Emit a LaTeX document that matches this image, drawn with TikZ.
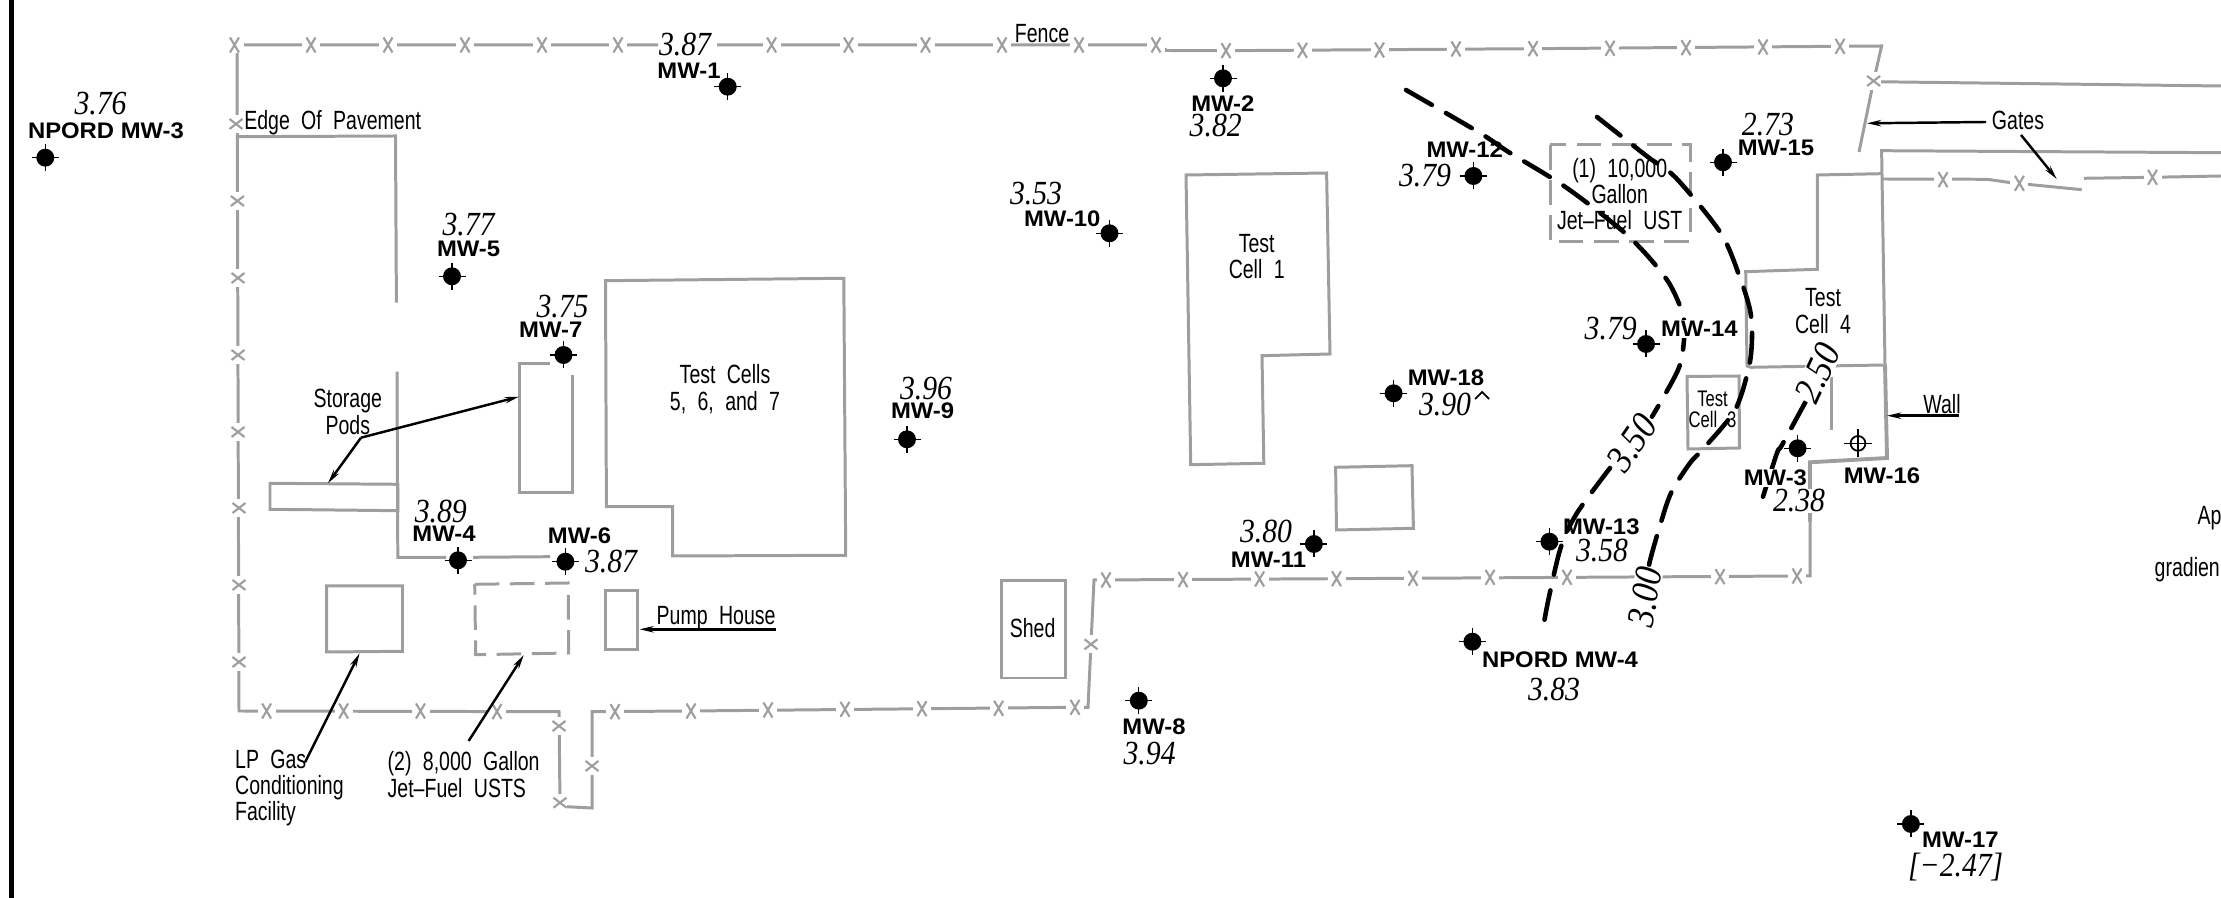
\documentclass[tikz,border=0pt]{standalone}
\usepackage{fontspec}
\usetikzlibrary{arrows.meta}
\newfontfamily\cadfont[FakeStretch=0.74,WordSpace=2.1]{Liberation Sans}
\newfontfamily\valfont[FakeStretch=0.88]{Liberation Serif}
\newfontfamily\wellfont[FakeStretch=1.06]{Liberation Sans}
\tikzset{
  site/.style={draw=black!38,line width=0.85pt,line join=miter},
  sitedash/.style={site,dash pattern=on 7pt off 3pt},
  contour/.style={line width=1.3pt,line cap=round,dash pattern=on 8.5pt off 4.6pt},
  leader/.style={line width=0.7pt,-{Stealth[length=4pt,width=1.8pt]}},
  well/.style={circle,fill=black,inner sep=0pt,minimum size=5.1pt},
  wellname/.style={font=\wellfont\bfseries\fontsize{6.4}{7}\selectfont,inner sep=0.3pt},
  wellval/.style={font=\valfont\itshape\fontsize{9.6}{11}\selectfont,inner sep=0.2pt},
  contourval/.style={wellval,fill=white,font=\valfont\itshape\fontsize{11}{12}\selectfont},
  cadtext/.style={font=\cadfont\fontsize{7.5}{7.5}\selectfont,align=center,inner sep=0pt},
  cadsmall/.style={font=\cadfont\fontsize{6.4}{5.9}\selectfont,align=center,inner sep=0pt},
}
\begin{document}
\begin{tikzpicture}[x=0.01cm,y=-0.01cm]
  \useasboundingbox (0,0) rectangle (2221,898);
  \clip (0,0) rectangle (2221,898);
  \fill (8.5,0) rectangle (14,898);

  % buildings
  \draw[site] (237.4,136.7) -- (395.5,136) -- (396.4,302.7);
  \draw[site] (397,371.7) -- (397.8,557.3) -- (446,557.3);
  \draw[site] (473,557.3) -- (550,556.7);
  \draw[site] (270,483.3) -- (397.8,484.3) -- (397.8,510.7) -- (270,509.3) -- cycle;
  \draw[site] (549.8,364) -- (519,364) -- (519,492.7) -- (572,492.7) -- (572,375);
  \draw[site] (605.5,280.7) -- (843.8,278.3) -- (845.7,555.3) -- (672.5,556) -- (672.5,506.7) -- (606.4,506.7) -- cycle;
  \draw[site] (326.6,586) -- (402.5,586) -- (402.5,651.3) -- (326.6,652) -- cycle;
  \draw[sitedash] (474.7,584.3) -- (568.2,583) -- (568.7,653) -- (475.7,654.7) -- cycle;
  \draw[site] (605,591) rectangle (637.6,649.3);
  \draw[site] (1001,580.7) rectangle (1065.6,678);
  \draw[site] (1186,175) -- (1326.6,173) -- (1330,354) -- (1262,355.7) -- (1263.8,463.3) -- (1190.7,464.7) -- cycle;
  \draw[site] (1335.6,467.3) -- (1412,465.7) -- (1413.4,528.3) -- (1336.5,530) -- cycle;
  \draw[sitedash] (1550,145) rectangle (1690,241.7);
  \draw[site] (1687,376.5) -- (1739,376) -- (1739.5,448) -- (1688,449) -- cycle;
  \draw[site] (1881.6,173.7) -- (1817.4,175) -- (1817.4,269.3) -- (1745.7,271.7) -- (1747,366) -- (1751,367.3) -- (1883.5,365);
  \draw[site] (1831.6,376.7) -- (1831.6,430);
  \draw[site] (2221,152.7) -- (1881.6,150.7) -- (1885,365);
  \draw[site,line width=1.1pt] (1885,365) -- (1887,458) -- (1810,462.3) -- (1810,521.7);

  % fence
  \draw[site] (237,45) -- (658,45) (717,45) -- (1156,45) (1165,48) -- (1165,50.5) -- (1226,50.7) -- (1533,48.7) -- (1840,46.3) -- (1881.6,46) -- (1873.6,81) -- (1859,152);
  \draw[site] (1873.6,81.7) -- (2221,86);
  \draw[site] (237,45) -- (239,711) -- (559,711.7) -- (560,802.7) -- (566,806.7) -- (592,808) -- (592,711.7) -- (691,711) -- (1075,707.3) -- (1088,707.3) -- (1094,580) -- (1413,578.3) -- (1797,576) -- (1810,576) -- (1810,500);
  \draw[site] (1881.6,179) -- (1987,179.3) -- (2011,182.7) -- (2081.7,189.7);
  \draw[site] (2084,178.3) -- (2152.5,177.3) -- (2221,176);
  \foreach \x/\y in {234.5/45,311/45,388/45,465/45,542/45,618/45,771.6/45,848.5/45,925.5/45,1002/45,1079/45,1156/45,
      1226/50.7,1302.5/50.3,1379.5/50,1456/49,1533/48.7,1610/48.3,1686/47.7,1763/47,1840/46.3,
      266.6/711,343.6/711,420.5/711,497/711.5,615/711.7,691/711,768/710,845/709.3,922/708.7,998.6/708.3,1075/707.3,
      1106/580,1183/579.7,1259.6/579,1336.5/578.7,1413/578.3,1490/577.3,1567/577.3,1720/576.7,1797/576,
      1943/179.7,2019.4/183.3,2152.5/177.3} {
    \fill[white] (\x-9,\y-8) rectangle (\x+9,\y+8);
    \draw[draw=black!38,line width=0.6pt] (\x-4.5,\y-7.5) -- (\x+4.5,\y+7.5) (\x-4.5,\y+7.5) -- (\x+4.5,\y-7.5);
  }
  \foreach \x/\y in {236/124,237.4/201,238/278,238/355,238/432,239/508,239/585,239/662,559/726,560/802.7,592/766,1091/644.3,1873.6/81} {
    \fill[white] (\x-7,\y-9) rectangle (\x+7,\y+9);
    \draw[draw=black!38,line width=0.6pt] (\x-6.5,\y-5) -- (\x+6.5,\y+5) (\x-6.5,\y+5) -- (\x+6.5,\y-5);
  }

  % leaders
  \draw[leader] (361,437.7) -- (519,396.7);
  \draw[leader] (361,437.7) -- (328,483.3);
  \draw[leader] (305,762.3) -- (359.6,653.3);
  \draw[leader] (468.6,741) -- (523.8,655);
  \draw[leader] (776,629.3) -- (639.5,629.3);
  \draw[leader] (1986,122) -- (1867,123.3);
  \draw[leader] (2021,135) -- (2056.7,179);
  \draw[leader] (1959,415.7) -- (1887,415.7);

  % groundwater contours
  \draw[contour] plot[smooth] coordinates {(1406,90) (1480,133) (1508,151.7) (1565,186.7) (1619,228) (1645,253) (1669,283) (1683,315) (1684,340) (1678,370) (1652,416.7)};
  \draw[contour] plot[smooth] coordinates {(1610,468) (1577,513) (1561,546.7) (1549,596.7) (1544,622.7)};
  \draw[contour] plot[smooth] coordinates {(1597,117) (1647.5,156.7) (1676,178) (1720.7,233) (1739.6,276.7) (1750,310) (1752,336.7) (1749,366.7) (1735,410) (1704,448) (1690,463) (1671,493) (1659.3,528) (1649,565) (1645,596)};
  \draw[contour] plot[smooth] coordinates {(1805.6,401.7) (1782,445) (1777,453) (1763,496.7)};
  \node[contourval,rotate=55] (lbl350) at (1632,443) {3.50};
  \node[contourval,rotate=80] (lbl300) at (1645,597) {3.00};
  \node[contourval,rotate=65] (lbl250) at (1817.4,373) {2.50};

  % text on the plan
  \node[cadtext] (fence) at (1042,33.3) {Fence};
  \node[cadtext] (pavement) at (332.7,122.7) {Edge Of Pavement};
  \node[cadtext] (pods) at (347.8,412) {Storage\\Pods};
  \node[cadtext] (cells) at (725,389) {Test Cells\\5, 6, and 7};
  \node[cadtext,anchor=west] (pump) at (656,617.7) {Pump House};
  \node[cadtext,anchor=north west,align=left] (lpgas) at (234.5,749) {LP Gas\\Conditioning\\Facility};
  \node[cadtext,anchor=north west,align=left] (usts) at (387,751) {(2) 8,000 Gallon\\Jet–Fuel USTS};
  \node[cadtext] (shed) at (1032.6,627.7) {Shed};
  \node[cadtext] (cell1) at (1256.7,256.5) {Test\\Cell 1};
  \node[cadtext] (ust) at (1619.7,194) {(1) 10,000\\Gallon\\Jet–Fuel UST};
  \node[cadtext] (gates) at (2018,120) {Gates};
  \node[cadtext] (cell4) at (1823,311) {Test\\Cell 4};
  \node[cadsmall] (cell3) at (1712.5,409.5) {Test\\Cell 3};
  \node[cadtext] (wall) at (1942,404) {Wall};
  \node[cadtext,anchor=west] (apptext) at (2197,518) {App};
  \node[cadtext,anchor=west] (gradtext) at (2154,570) {gradien};
  \draw[line width=0.5pt] (1475,399) -- (1482,392) -- (1489,399);

  % well names and levels
  \foreach \x/\y/\t [count=\i] in {106/130.7/NPORD MW-3,689/70.3/MW-1,468.6/248.7/MW-5,550.7/330/MW-7,444/534/MW-4,579.5/535.7/MW-6,
      1222.8/103.7/MW-2,1062.3/218.7/MW-10,922.6/411/MW-9,1464.7/150/MW-12,1446/378/MW-18,1268.5/560/MW-11,1154/726.7/MW-8,
      1776/147.7/MW-15,1882/475.7/MW-16,1601.3/526.7/MW-13,1560/660/NPORD MW-4,1960.4/839.3/MW-17}
    \node[wellname] (name\i) at (\x,\y) {\t};
  \node[wellname,fill=white] (name14) at (1699.4,329) {MW-14};
  \node[wellname,fill=white] (name3) at (1775.4,477.7) {MW-3};
  \foreach \x/\y/\t [count=\i] in {100.5/103.3/3.76,685/45/3.87,468.6/224.3/3.77,562.5/306.7/3.75,440.8/511.7/3.89,611/561.7/3.87,
      1215.7/125.7/3.82,1036/193.3/3.53,926/389/3.96,1425/175.7/3.79,1445/405/3.90,1266/531.7/3.80,1149.6/753.3/3.94,
      1767.9/124.3/2.73,1610.7/328.3/3.79,1602/551/3.58,1554/690/3.83,1955.7/866.7/{[−2.47]}}
    \node[wellval] (level\i) at (\x,\y) {\t};
  \node[wellval,fill=white] (level238) at (1799,501) {2.38};

  % wells
  \foreach \n/\x/\y in {npord3/45.3/157.7,mw1/727.7/86.7,mw5/452/276.3,mw7/563.5/355,mw4/458/560.3,mw6/565.4/561.7,mw2/1223/78.3,
      mw10/1109.5/233.3,mw9/907/439.3,mw18/1393.6/393.3,mw12/1473.4/176,mw11/1313.9/544,mw8/1138.8/700.7,mw15/1723/162.3,
      mw14/1646/344,mw3/1797.6/448.3,mw13/1549.4/541.7,npord4/1472.4/641.7,mw17/1910.9/824} {
    \node[well] (\n) at (\x,\y) {};
    \draw[line width=0.35pt] (\n.center) +(-13.5,0) -- +(13.5,0) (\n.center) +(0,-13.5) -- +(0,13.5);
  }
  \node[circle,draw,line width=0.5pt,inner sep=0pt,minimum size=4.2pt,fill=white] (mw16) at (1858,443.4) {};
  \draw[line width=0.5pt] (mw16.center) +(-14,0) -- +(14,0) (mw16.center) +(0,-14) -- +(0,14);
\end{tikzpicture}
\end{document}
